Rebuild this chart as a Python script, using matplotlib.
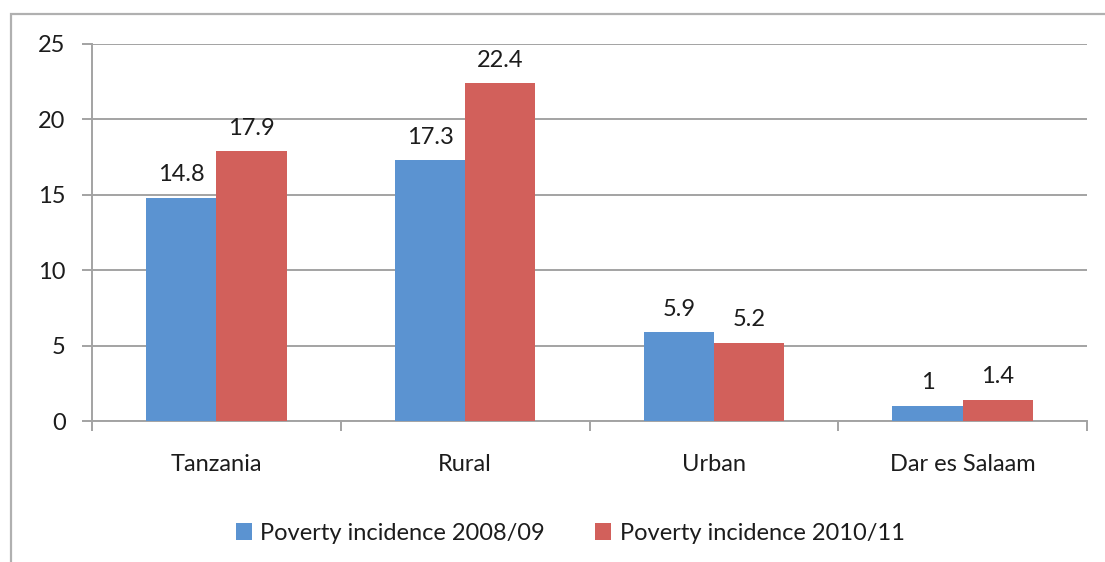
import matplotlib
matplotlib.use("Agg")
import matplotlib.pyplot as plt
from matplotlib.patches import Rectangle
import numpy as np

categories = ["Tanzania", "Rural", "Urban", "Dar es Salaam"]
series_names = ["Poverty incidence 2008/09", "Poverty incidence 2010/11"]
values_0809 = [14.8, 17.3, 5.9, 1.0]
values_1011 = [17.9, 22.4, 5.2, 1.4]
value_labels_0809 = ["14.8", "17.3", "5.9", "1"]
value_labels_1011 = ["17.9", "22.4", "5.2", "1.4"]
y_ticks = [0, 5, 10, 15, 20, 25]

BLUE = "#5b93d1"
RED = "#d2605b"
GRID = "#a3a3a3"
TEXT = "#1c1c1c"
FS = 17

plt.rcParams["font.family"] = ["Lato", "DejaVu Sans"]

W, H = 1105, 562
fig = plt.figure(figsize=(W / 100, H / 100), dpi=100)

# outer chart frame (runs off the right and bottom edges)
fig.patches.append(Rectangle((11 / W, -0.05), 1.2, (H - 14) / H + 0.05,
                             transform=fig.transFigure, fill=False,
                             edgecolor="#b0b0b0", linewidth=1.6))

ax = fig.add_axes([92 / W, (H - 421) / H, 995 / W, 377 / H])

x = np.arange(len(categories))
bw = 0.282
ax.bar(x - bw / 2, values_0809, bw, color=BLUE, label=series_names[0], zorder=3)
ax.bar(x + bw / 2, values_1011, bw, color=RED, label=series_names[1], zorder=3)

for xi, v, s in zip(x, values_0809, value_labels_0809):
    ax.annotate(s, (xi - bw / 2, v), xytext=(0, 9), textcoords="offset points",
                ha="center", va="bottom", fontsize=FS, color=TEXT)
for xi, v, s in zip(x, values_1011, value_labels_1011):
    ax.annotate(s, (xi + bw / 2, v), xytext=(0, 9), textcoords="offset points",
                ha="center", va="bottom", fontsize=FS, color=TEXT)

ax.set_xlim(-0.5, len(categories) - 0.5)
ax.set_ylim(0, 25)
ax.set_yticks(y_ticks)
ax.set_yticklabels([str(t) for t in y_ticks], fontsize=FS, color=TEXT)
ax.yaxis.grid(True, color=GRID, linewidth=1.4, zorder=0)
ax.set_axisbelow(True)

ax.set_xticks(x)
ax.set_xticklabels(categories, fontsize=FS, color=TEXT)
ax.tick_params(axis="x", which="major", length=0, pad=24)
ax.set_xticks(np.arange(-0.5, len(categories)), minor=True)
ax.tick_params(axis="x", which="minor", length=7, width=1.4, color=GRID, direction="out")
ax.tick_params(axis="y", length=7, width=1.4, color=GRID, pad=12)

for side in ["top", "right"]:
    ax.spines[side].set_visible(False)
for side in ["left", "bottom"]:
    ax.spines[side].set_color(GRID)
    ax.spines[side].set_linewidth(1.4)

handles, labels = ax.get_legend_handles_labels()
fig.legend(handles, labels, loc="center", bbox_to_anchor=(570 / W, (H - 533) / H),
           ncol=2, frameon=False, fontsize=FS, handlelength=0.7, handleheight=0.7,
           handletextpad=0.35, columnspacing=2.1, labelcolor=TEXT)

fig.savefig("out.png", dpi=100, facecolor="white")
